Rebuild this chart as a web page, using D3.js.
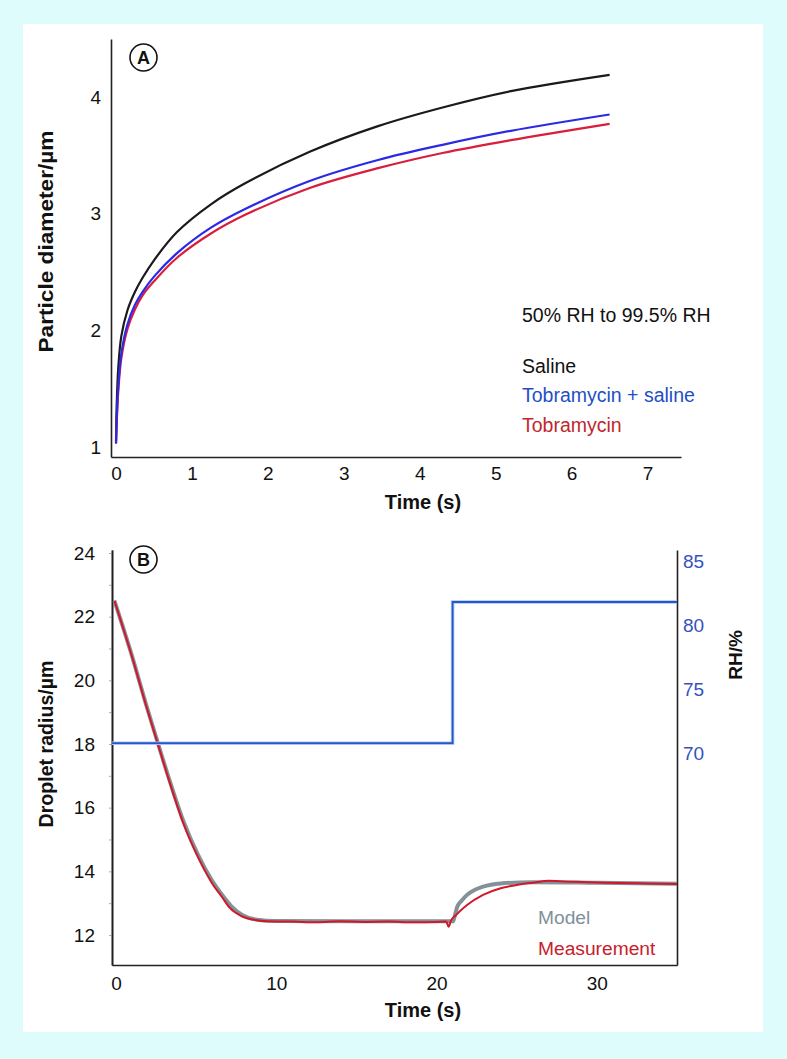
<!DOCTYPE html>
<html><head><meta charset="utf-8">
<script src="https://cdn.jsdelivr.net/npm/d3@7"></script>
<style>
html,body{margin:0;padding:0;background:#dffcfc;}
svg{display:block;}
text{font-family:"Liberation Sans", Arial, Helvetica, sans-serif;}
</style></head><body>
<svg id="chart" width="787" height="1059"></svg>
<script>
// ---------- Panel A data ----------
const timeA = [0, 0.01, 0.03, 0.07, 0.15, 0.25, 0.35, 0.5, 0.8, 1.25, 1.7, 2.55, 3.45, 4.3, 5.2, 6.5];
const saline = [1.05, 1.38, 1.68, 1.95, 2.17, 2.33, 2.45, 2.6, 2.84, 3.08, 3.26, 3.53, 3.75, 3.91, 4.05, 4.19];
const tobraSaline = [1.03, 1.25, 1.52, 1.80, 2.05, 2.22, 2.33, 2.46, 2.66, 2.88, 3.04, 3.28, 3.46, 3.59, 3.71, 3.85];
const tobra = [1.03, 1.22, 1.48, 1.76, 2.01, 2.18, 2.30, 2.42, 2.62, 2.83, 2.99, 3.22, 3.39, 3.52, 3.63, 3.77];
const xTicksA = [0, 1, 2, 3, 4, 5, 6, 7];
const yTicksA = [1, 2, 3, 4];
const seriesNamesA = ["Saline", "Tobramycin + saline", "Tobramycin"];
const conditionA = "50% RH to 99.5% RH";

// ---------- Panel B data ----------
const timeMeas = [-0.1, 1.0, 1.9, 2.6, 3.3, 4.2, 5.1, 6.0, 6.6, 7.1, 7.8, 8.7, 9.5, 11, 12.5, 14, 15.5, 17, 18.5, 20, 20.6, 20.75, 20.9, 21.2, 21.9, 22.9, 24.0, 25.0, 26.0, 27.0, 28.6, 30, 31.4, 33, 35];
const measurement = [22.5, 20.74, 19.17, 18.02, 16.87, 15.51, 14.46, 13.62, 13.2, 12.85, 12.6, 12.47, 12.43, 12.42, 12.40, 12.43, 12.41, 12.42, 12.40, 12.41, 12.42, 12.26, 12.45, 12.62, 12.94, 13.26, 13.47, 13.57, 13.64, 13.70, 13.67, 13.65, 13.63, 13.62, 13.60];
const timeModel = [-0.1, 1.0, 1.9, 2.6, 3.3, 4.2, 5.1, 6.0, 6.6, 7.2, 7.9, 8.8, 10, 15, 20, 21.0, 21.3, 21.6, 21.9, 22.4, 22.9, 24.0, 26.0, 30, 35];
const model = [22.5, 20.76, 19.2, 18.05, 16.92, 15.58, 14.53, 13.7, 13.27, 12.9, 12.62, 12.48, 12.44, 12.43, 12.43, 12.43, 12.9, 13.1, 13.26, 13.42, 13.52, 13.62, 13.66, 13.64, 13.61];
const rhTime = [-0.25, 21, 35];
const rhValue = [70.8, 81.85, 81.85];
const xTicksB = [0, 10, 20, 30];
const yTicksB = [12, 14, 16, 18, 20, 22, 24];
const yMinorB = d3.range(12, 25, 1);
const rhTicks = [70, 75, 80, 85];
const seriesNamesB = ["Model", "Measurement"];

// ---------- drawing ----------
const svg = d3.select("#chart");
svg.append("rect").attr("x", 0).attr("y", 0).attr("width", 787).attr("height", 1059).attr("fill", "#dffcfc");
svg.append("rect").attr("x", 23).attr("y", 24).attr("width", 740).attr("height", 1008).attr("fill", "#ffffff");

const axisColor = "#222";
const tickFs = 19;
function styleAxis(g, fs, color) {
  g.select(".domain").attr("stroke", axisColor).attr("stroke-width", 1.6);
  g.selectAll(".tick text").attr("font-size", fs).attr("fill", color || "#111")
    .attr("font-family", '"Liberation Sans", Arial, sans-serif');
  g.selectAll(".tick line").attr("stroke", "#999");
}
const fmt = d3.format("d");

// ===== Panel A =====
const xA = d3.scaleLinear().domain([-0.066, 7.44]).range([111, 681]);
const yA = d3.scaleLinear().domain([0.914, 4.497]).range([457, 39]);

const gAx = svg.append("g").attr("transform", "translate(0,457)")
  .call(d3.axisBottom(xA).tickValues(xTicksA).tickFormat(fmt).tickSize(0).tickPadding(10).tickSizeOuter(0));
styleAxis(gAx, tickFs);
const gAy = svg.append("g").attr("transform", "translate(111,0)")
  .call(d3.axisLeft(yA).tickValues(yTicksA).tickFormat(fmt).tickSize(0).tickPadding(10).tickSizeOuter(0));
styleAxis(gAy, tickFs);

const lineA = (vals) => d3.line().x((d, i) => xA(timeA[i])).y(d => yA(d)).curve(d3.curveCatmullRom.alpha(0.5))(vals);
const colorsA = ["#1a1a1a", "#2a2ae6", "#d81e3c"];
[[saline, colorsA[0]], [tobra, colorsA[2]], [tobraSaline, colorsA[1]]].forEach(([vals, c]) => {
  svg.append("path").attr("d", lineA(vals)).attr("fill", "none").attr("stroke", c)
    .attr("stroke-width", 2.2).attr("stroke-linejoin", "round");
});

svg.append("text").attr("x", 423).attr("y", 509).attr("text-anchor", "middle")
  .attr("font-size", 20).attr("font-weight", "bold").attr("fill", "#111").text("Time (s)");
svg.append("text").attr("transform", "translate(53,241.5) rotate(-90)").attr("text-anchor", "middle")
  .attr("font-size", 19.5).attr("font-weight", "bold").attr("fill", "#111")
  .attr("textLength", 222).attr("lengthAdjust", "spacingAndGlyphs").text("Particle diameter/\u00b5m");

// circle label A
svg.append("circle").attr("cx", 143.5).attr("cy", 57.5).attr("r", 13.5).attr("fill", "#fff").attr("stroke", "#111").attr("stroke-width", 1.6);
svg.append("text").attr("x", 143.5).attr("y", 64).attr("text-anchor", "middle").attr("font-size", 18).attr("font-weight", "bold").attr("fill", "#111").text("A");

// legend A
svg.append("text").attr("x", 522).attr("y", 322).attr("font-size", 19.5).attr("fill", "#111").text(conditionA);
const legTextColorsA = ["#111111", "#1f4fc6", "#c0272d"];
const legY = [372.5, 401.5, 431.5];
seriesNamesA.forEach((n, i) => {
  svg.append("text").attr("x", 522).attr("y", legY[i]).attr("font-size", 19.5).attr("fill", legTextColorsA[i]).text(n);
});

// ===== Panel B =====
const xB = d3.scaleLinear().domain([-0.25, 35]).range([112, 677]);
const yB = d3.scaleLinear().domain([11.057, 24.094]).range([965, 550]);
const yR = d3.scaleLinear().domain([53.43, 85.92]).range([965, 550]);

const gBx = svg.append("g").attr("transform", "translate(0,965)")
  .call(d3.axisBottom(xB).tickValues(xTicksB).tickFormat(fmt).tickSize(0).tickPadding(12).tickSizeOuter(0));
styleAxis(gBx, tickFs);
const gByMinor = svg.append("g").attr("transform", "translate(112,0)")
  .call(d3.axisLeft(yB).tickValues(yMinorB).tickSize(3).tickFormat("").tickSizeOuter(0));
styleAxis(gByMinor, tickFs);
gByMinor.selectAll(".tick line").attr("stroke", "#aaa").attr("stroke-width", 1);
const gBy = svg.append("g").attr("transform", "translate(112,0)")
  .call(d3.axisLeft(yB).tickValues(yTicksB).tickFormat(fmt).tickSize(0).tickPadding(17).tickSizeOuter(0));
styleAxis(gBy, tickFs);
const gBr = svg.append("g").attr("transform", "translate(677,0)")
  .call(d3.axisRight(yR).tickValues(rhTicks).tickFormat(fmt).tickSize(0).tickPadding(6).tickSizeOuter(0));
styleAxis(gBr, tickFs, "#3552bd");

const lineModel = d3.line().x((d, i) => xB(timeModel[i])).y(d => yB(d)).curve(d3.curveMonotoneX);
const lineMeas = d3.line().x((d, i) => xB(timeMeas[i])).y(d => yB(d)).curve(d3.curveMonotoneX);
const lineRH = d3.line().x((d, i) => xB(rhTime[i])).y(d => yR(d)).curve(d3.curveStepAfter);

svg.append("path").attr("d", lineModel(model)).attr("fill", "none").attr("stroke", "#7d8c91")
  .attr("stroke-width", 4).attr("stroke-linejoin", "round").attr("opacity", 0.95);
svg.append("path").attr("d", lineMeas(measurement)).attr("fill", "none").attr("stroke", "#d3172b")
  .attr("stroke-width", 2).attr("stroke-linejoin", "round");
svg.append("path").attr("d", lineRH(rhValue)).attr("fill", "none").attr("stroke", "#a9c4f0")
  .attr("stroke-width", 3.5);
svg.append("path").attr("d", lineRH(rhValue)).attr("fill", "none").attr("stroke", "#2757cc")
  .attr("stroke-width", 1.8);

svg.append("text").attr("x", 423).attr("y", 1016.5).attr("text-anchor", "middle")
  .attr("font-size", 20).attr("font-weight", "bold").attr("fill", "#111").text("Time (s)");
svg.append("text").attr("transform", "translate(53,744) rotate(-90)").attr("text-anchor", "middle")
  .attr("font-size", 19.6).attr("font-weight", "bold").attr("fill", "#111").text("Droplet radius/\u00b5m");
svg.append("text").attr("transform", "translate(742,655) rotate(-90)").attr("text-anchor", "middle")
  .attr("font-size", 19).attr("font-weight", "bold").attr("fill", "#111").text("RH/%");

svg.append("circle").attr("cx", 143.5).attr("cy", 559.5).attr("r", 13.5).attr("fill", "#fff").attr("stroke", "#111").attr("stroke-width", 1.6);
svg.append("text").attr("x", 143.5).attr("y", 566).attr("text-anchor", "middle").attr("font-size", 18).attr("font-weight", "bold").attr("fill", "#111").text("B");

const legColorsB = ["#7f9099", "#c8202a"];
const legYB = [924, 955];
seriesNamesB.forEach((n, i) => {
  svg.append("text").attr("x", 538).attr("y", legYB[i]).attr("font-size", 19.2).attr("fill", legColorsB[i]).text(n);
});
</script>
</body></html>
